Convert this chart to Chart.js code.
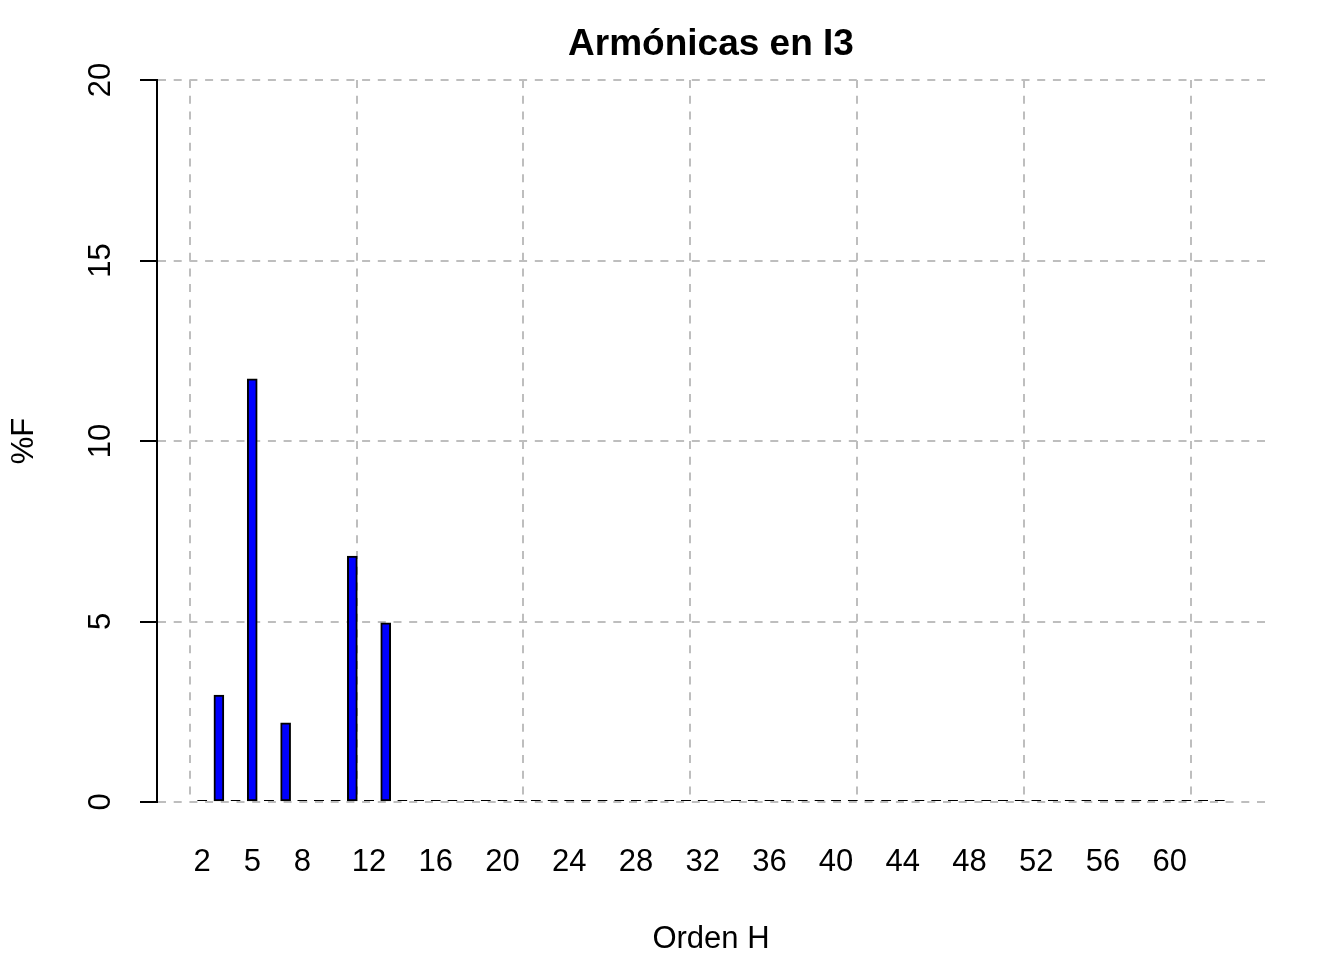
<!DOCTYPE html>
<html><head><meta charset="utf-8">
<script src="https://cdn.jsdelivr.net/npm/chart.js@4/dist/chart.umd.min.js"></script>
<style>html,body{margin:0;padding:0;background:#fff}#wrap{width:1344px;height:960px}</style>
</head><body><div id="wrap"><canvas id="c" width="1344" height="960"></canvas></div>
<script>
const chartTitle = 'Armónicas en I3';
const xTitle = 'Orden H';
const yTitle = '%F';
const orders = [2,3,4,5,6,7,8,9,10,11,12,13,14,15,16,17,18,19,20,21,22,23,24,25,26,27,28,29,30,31,32,
  33,34,35,36,37,38,39,40,41,42,43,44,45,46,47,48,49,50,51,52,53,54,55,56,57,58,59,60,61,62,63];
const values = [0,2.96,0,11.72,0,2.19,0,0,0,6.81,0,4.96,0,0,0,0,0,0,0,0,0,0,0,0,0,0,0,0,0,0,0,
  0,0,0,0,0,0,0,0,0,0,0,0,0,0,0,0,0,0,0,0,0,0,0,0,0,0,0,0,0,0,0];
const xTickLabels = [2,5,8,12,16,20,24,28,32,36,40,44,48,52,56,60];
const xGridLines = [1.25,11.25,21.25,31.25,41.25,51.25,61.25];
const yTicks = [0,5,10,15,20];
const xMin = -0.71, xMax = 65.71;

const FONT = '"Liberation Sans", Arial, sans-serif';
const dash = [8, 7.7];

const textPlugin = {
  id: 'texts',
  beforeDraw(chart) {
    const ctx = chart.ctx;
    ctx.save();
    ctx.fillStyle = '#fff';
    ctx.fillRect(0, 0, chart.width, chart.height);
    ctx.restore();
  },
  afterDraw(chart) {
    const ctx = chart.ctx, ca = chart.chartArea, ys = chart.scales.y, xs = chart.scales.x;
    const cx = (ca.left + ca.right) / 2, cy = (ca.top + ca.bottom) / 2;
    ctx.save();
    ctx.fillStyle = '#000';
    ctx.textAlign = 'center';
    ctx.textBaseline = 'middle';
    ctx.font = 'bold 37px ' + FONT;
    ctx.fillText(chartTitle, cx, 45);
    ctx.font = '31px ' + FONT;
    ctx.fillText(xTitle, cx, 939);
    xTickLabels.forEach(v => {
      ctx.fillText(String(v), xs.getPixelForValue(v), 862);
    });
    ctx.save();
    ctx.translate(24, cy);
    ctx.rotate(-Math.PI / 2);
    ctx.fillText(yTitle, 0, 0);
    ctx.restore();
    yTicks.forEach(v => {
      ctx.save();
      ctx.translate(101, ys.getPixelForValue(v));
      ctx.rotate(-Math.PI / 2);
      ctx.fillText(String(v), 0, 0);
      ctx.restore();
    });
    ctx.restore();
  }
};

new Chart(document.getElementById('c'), {
  type: 'bar',
  data: {
    datasets: [{
      data: orders.map((h, i) => ({x: h, y: values[i]})),
      backgroundColor: '#0000ff',
      borderColor: '#000000',
      borderWidth: 2,
      borderSkipped: false,
      inflateAmount: c => (c.raw && c.raw.y === 0) ? 0 : 0.33,
      barThickness: 10,
      minBarLength: 2
    }]
  },
  options: {
    responsive: false,
    animation: false,
    layout: {padding: {left: 0, top: 80, right: 79, bottom: 158}},
    plugins: {legend: {display: false}, tooltip: {enabled: false}, title: {display: false}},
    scales: {
      x: {
        type: 'linear', position: 'bottom', min: xMin, max: xMax, offset: false,
        afterBuildTicks: s => { s.ticks = xTickLabels.map(v => ({value: v})); },
        afterFit: s => { s.height = 0; },
        grid: {display: false, drawTicks: false, offset: false},
        border: {display: false},
        ticks: {display: false}
      },
      xg: {
        type: 'linear', position: 'bottom', min: xMin, max: xMax, offset: false, z: 1,
        afterBuildTicks: s => { s.ticks = xGridLines.map(v => ({value: v})); },
        afterFit: s => { s.height = 0; },
        grid: {display: true, offset: false, color: '#bebebe', lineWidth: 2, drawTicks: false},
        border: {display: false, dash: dash},
        ticks: {display: false}
      },
      y: {
        min: 0, max: 20, position: 'left', z: 1,
        afterBuildTicks: s => { s.ticks = yTicks.map(v => ({value: v})); },
        afterFit: s => { s.width = 157; },
        ticks: {display: false},
        grid: {color: '#bebebe', lineWidth: 2, drawTicks: true, tickLength: 17, tickColor: '#000', tickWidth: 2},
        border: {display: true, color: '#000', width: 2, dash: dash}
      }
    }
  },
  plugins: [textPlugin]
});
</script></body></html>
